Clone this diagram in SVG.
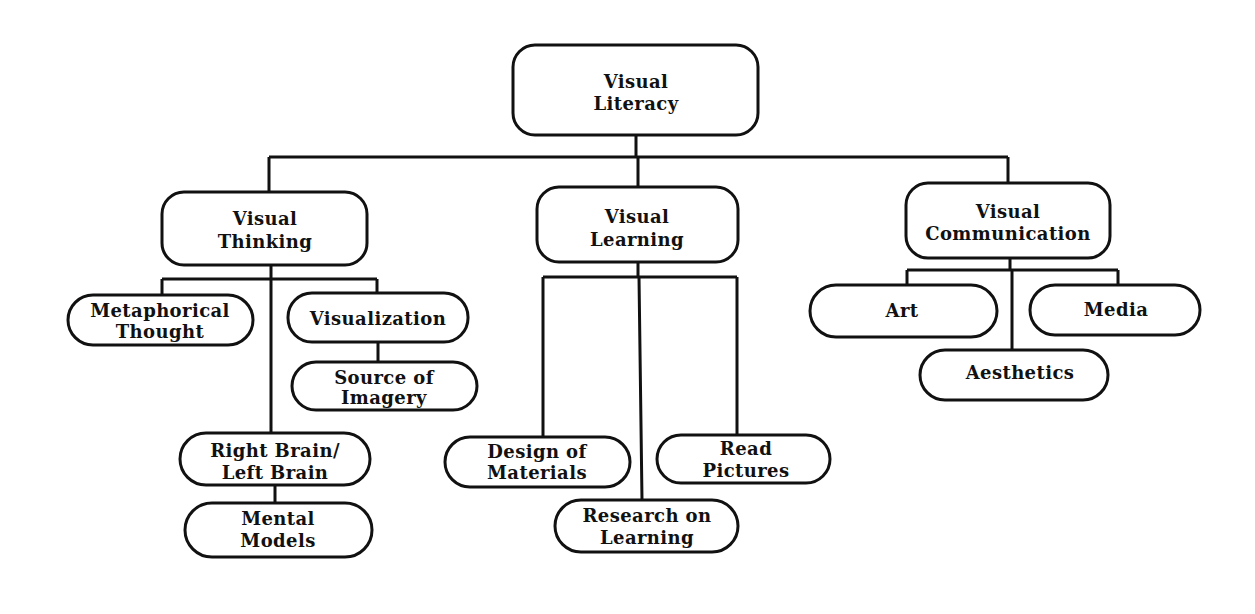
<svg xmlns="http://www.w3.org/2000/svg" width="1255" height="614" viewBox="0 0 1255 614">
<style>
.box{fill:#fff;stroke:#111;stroke-width:3}
.ln{fill:none;stroke:#111;stroke-width:3}
text{font-family:"DejaVu Serif","Liberation Serif",serif;font-weight:bold;font-size:18px;letter-spacing:0.4px;fill:#111;text-anchor:middle}
</style>
<rect width="1255" height="614" fill="#fff"/>
<g id="connectors">
<path class="ln" d="M636 135V157M269 157H1008M269 157V192M638 157V187M1008 157V183"/>
<path class="ln" d="M271 265V433M162 279H377M162 279V295M377 279V293M378 342V362M275 485V503"/>
<path class="ln" d="M638 262V277M543 277H737M543 277V437M737 277V435M639 277L642 500"/>
<path class="ln" d="M1010 258V270M907 270H1118M907 270V285M1118 270V285M1012 270V350"/>
</g>
<g id="n-literacy"><rect class="box" x="513" y="45" width="245" height="90" rx="22"/><text x="636" y="88">Visual</text><text x="636" y="110">Literacy</text></g>
<g id="n-thinking"><rect class="box" x="162" y="192" width="205" height="73" rx="22"/><text x="265" y="225">Visual</text><text x="265" y="248">Thinking</text></g>
<g id="n-learning"><rect class="box" x="537" y="187" width="201" height="75" rx="22"/><text x="637" y="223">Visual</text><text x="637" y="246">Learning</text></g>
<g id="n-communication"><rect class="box" x="906" y="183" width="204" height="75" rx="22"/><text x="1008" y="218">Visual</text><text x="1008" y="240">Communication</text></g>
<g id="n-metaphorical"><rect class="box" x="68" y="295" width="185" height="50" rx="25"/><text x="160" y="317">Metaphorical</text><text x="160" y="338">Thought</text></g>
<g id="n-visualization"><rect class="box" x="288" y="293" width="180" height="49" rx="24"/><text x="378" y="325">Visualization</text></g>
<g id="n-source"><rect class="box" x="292" y="362" width="185" height="48" rx="24"/><text x="384" y="384">Source of</text><text x="384" y="404">Imagery</text></g>
<g id="n-rightbrain"><rect class="box" x="180" y="433" width="190" height="52" rx="26"/><text x="275" y="457">Right Brain/</text><text x="275" y="479">Left Brain</text></g>
<g id="n-mental"><rect class="box" x="185" y="503" width="187" height="54" rx="27"/><text x="278" y="525">Mental</text><text x="278" y="547">Models</text></g>
<g id="n-design"><rect class="box" x="445" y="437" width="185" height="50" rx="25"/><text x="537" y="458">Design of</text><text x="537" y="479">Materials</text></g>
<g id="n-read"><rect class="box" x="657" y="435" width="173" height="48" rx="24"/><text x="746" y="455">Read</text><text x="746" y="477">Pictures</text></g>
<g id="n-research"><rect class="box" x="555" y="500" width="183" height="52" rx="26"/><text x="647" y="522">Research on</text><text x="647" y="544">Learning</text></g>
<g id="n-art"><rect class="box" x="810" y="285" width="187" height="52" rx="26"/><text x="902" y="317">Art</text></g>
<g id="n-media"><rect class="box" x="1030" y="285" width="170" height="50" rx="25"/><text x="1116" y="316">Media</text></g>
<g id="n-aesthetics"><rect class="box" x="920" y="350" width="188" height="50" rx="25"/><text x="1020" y="379">Aesthetics</text></g>
</svg>
